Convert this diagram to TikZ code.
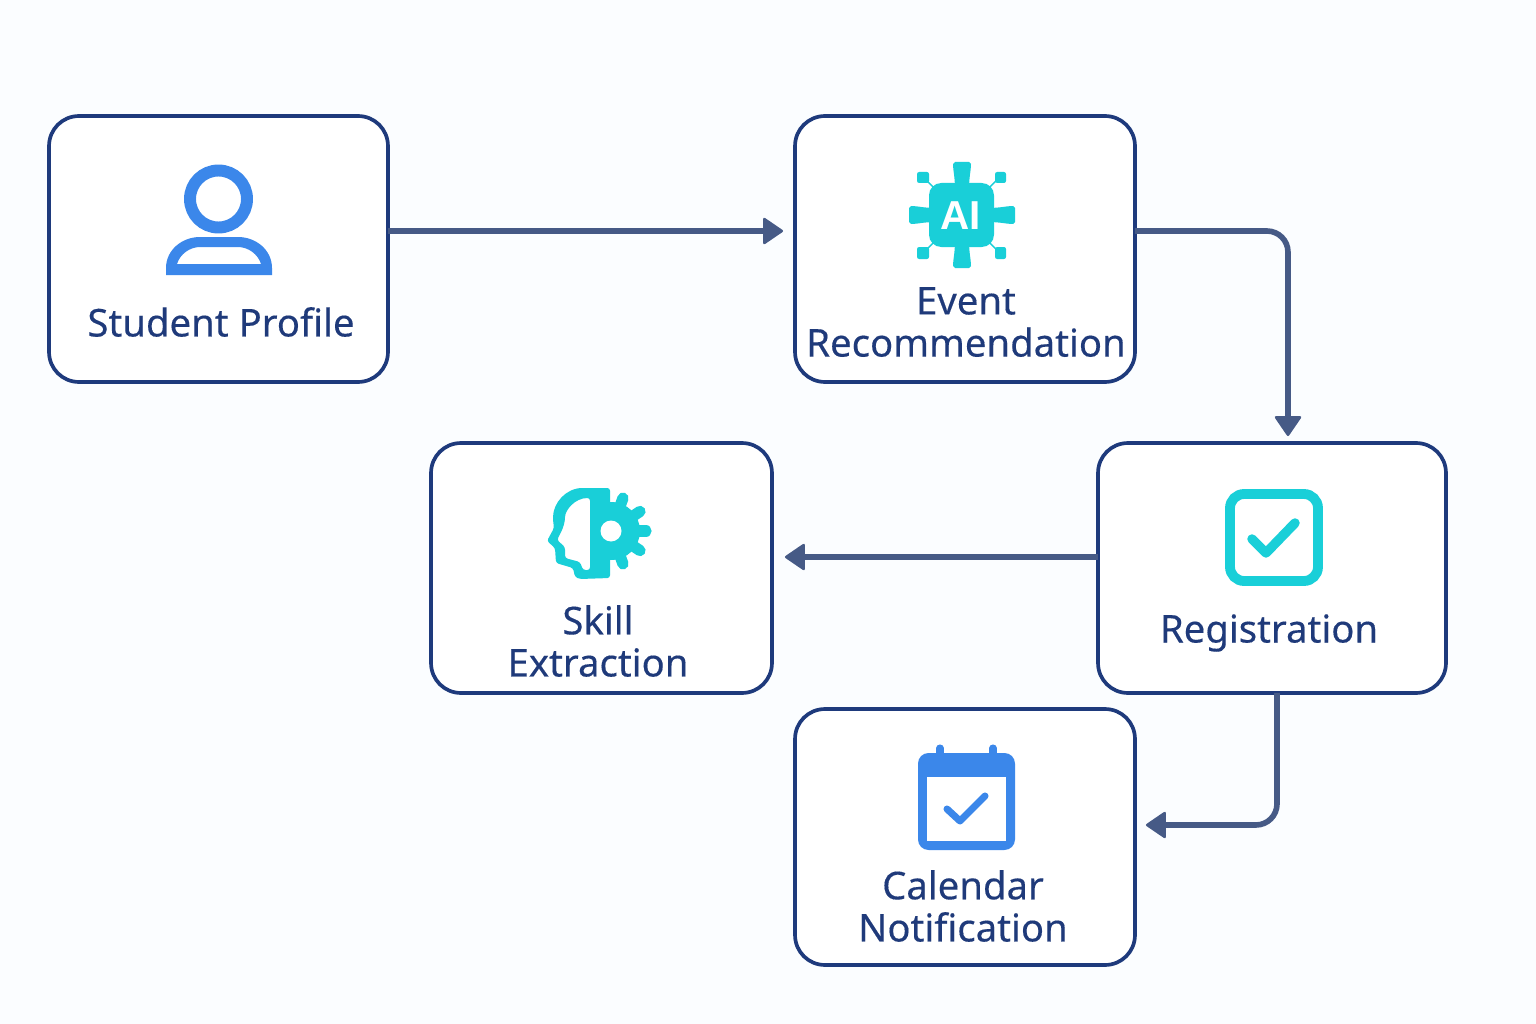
\documentclass[tikz,border=0pt]{standalone}
\usepackage{fontspec}
\setmainfont{Noto Sans}
\newfontfamily\stagefont[FakeBold=0.3]{Noto Sans}
\newfontfamily\chipfont{Liberation Sans}
\usetikzlibrary{arrows.meta}
\definecolor{pagebg}{HTML}{FBFDFF}
\definecolor{boxline}{HTML}{1E3A7C}
\definecolor{flowline}{HTML}{465A86}
\definecolor{labeltext}{HTML}{1F3A7A}
\definecolor{iconblue}{HTML}{3B87EA}
\definecolor{iconteal}{HTML}{19CFD8}
\tikzset{
	stagebox/.style={draw=boxline,fill=white,line width=2.1pt,rounded corners=17pt,outer sep=0pt,inner sep=0pt},
	stagelabel/.style={text=labeltext,font=\stagefont\fontsize{21.8}{24}\selectfont,align=center,inner sep=0pt},
	flow/.style={draw=flowline,line width=3.2pt,rounded corners=12pt,-{Triangle[length=12pt,width=16pt,line width=1.5pt,round]}},
	tealstroke/.style={draw=iconteal,line width=5.4pt,line cap=round,line join=round},
	bluestroke/.style={draw=iconblue,line width=4pt,line cap=round,line join=round}
}
\begin{document}
\begin{tikzpicture}[x=0.02cm,y=-0.02cm]
	\fill[pagebg] (0,0) rectangle (1536,1024);
	\useasboundingbox (0,0) rectangle (1536,1024);

	% boxes
	\node[stagebox,minimum width=6.78cm,minimum height=5.32cm] (student) at (218.5,249) {};
	\node[stagebox,minimum width=6.80cm,minimum height=5.32cm] (event) at (965,249) {};
	\node[stagebox,minimum width=6.96cm,minimum height=5.00cm] (registration) at (1272,568) {};
	\node[stagebox,minimum width=6.82cm,minimum height=5.00cm] (skill) at (601.5,568) {};
	\node[stagebox,minimum width=6.80cm,minimum height=5.12cm] (calendar) at (965,837) {};

	% labels
	\node[stagelabel] (studentlabel) at (221,322) {Student Profile};
	\node[stagelabel] (eventlabel) at (966,322) {Event\\Recommendation};
	\node[stagelabel] (registrationlabel) at (1269,633) {Registration};
	\node[stagelabel] (skilllabel) at (598,641) {Skill\\Extraction};
	\node[stagelabel] (calendarlabel) at (963,906) {Calendar\\Notification};

	% connectors
	\draw[flow,shorten >=0.24cm] ([yshift=0.36cm]student.east) -- ([yshift=0.36cm]event.west);
	\draw[flow,shorten >=0.14cm] ([yshift=0.36cm]event.east) -| ([xshift=0.32cm]registration.north);
	\draw[flow,shorten >=0.26cm] ([yshift=0.22cm]registration.west) -- ([yshift=0.22cm]skill.east);
	\draw[flow,shorten >=0.22cm] ([xshift=0.10cm]registration.south) |- ([yshift=0.24cm]calendar.east);

	% person icon
	\draw[iconblue,line width=6.8pt] (218.5,199) circle (28.5);
	\fill[iconblue,even odd rule] (166,275) -- (166,268) .. controls (166,250) and (182,237) .. (200,237) -- (238,237) .. controls (256,237) and (272,250) .. (272,268) -- (272,275) -- cycle
		(177,264) .. controls (180,254) and (190,247) .. (200,247) -- (238,247) .. controls (248,247) and (258,254) .. (261,264) -- cycle;

	% chip icon
	\draw[iconteal,line width=0.8pt] (925,179) -- (998,251) (998,179) -- (925,251);
	\fill[iconteal,rounded corners=7pt] (929,183) rectangle (994,247);
	\foreach \turn in {0,90,180,270}{
		\fill[iconteal,shift={(962,215)},rotate=\turn] (-7,-25) .. controls (-7,-39) and (-9,-44) .. (-9,-51) -- (-7,-53) -- (7,-53) -- (9,-51) .. controls (9,-44) and (7,-39) .. (7,-25) -- cycle;
	}
	\fill[iconteal,rounded corners=1.2pt] (917,172) rectangle (929,183);
	\fill[iconteal,rounded corners=1.2pt] (995,172) rectangle (1006,183);
	\fill[iconteal,rounded corners=1.2pt] (917,247) rectangle (929,259);
	\fill[iconteal,rounded corners=1.2pt] (995,247) rectangle (1006,259);
	\node[text=white,font=\chipfont\bfseries\fontsize{23}{24}\selectfont,inner sep=0pt] (chiptext) at (961,216) {AI};

	% head and gear icon
	\fill[iconteal,even odd rule,rounded corners=1.5pt] (610,488) -- (585,488) .. controls (566,488) and (553,503) .. (553,520) -- (554,528) -- (547,541) -- (555,548) -- (556,563) -- (573,568) -- (575,577) -- (580,579) -- (610,578) -- cycle
		(590,498) .. controls (575,498) and (565,510) .. (565,520) -- (563,528) -- (557,540) -- (565,547) -- (565,558) -- (580,562) -- (583,570) -- (590,570) -- cycle;
	\begin{scope}
		\clip (590,480) rectangle (660,585);
		\fill[iconteal] (611,531) circle (29);
		\foreach \tooth in {-70,-34,0,34,70}{
			\draw[tealstroke,line width=6.4pt] (611,531) -- +({35*cos(\tooth)},{35*sin(\tooth)});
		}
	\end{scope}
	\fill[white] (611,531) circle (10.5);

	% calendar icon
	\draw[bluestroke] (940,748) -- (940,760) (993,748) -- (993,760);
	\fill[iconblue,rounded corners=6pt] (918,753) rectangle (1015,850);
	\fill[white] (927,777) rectangle (1006,841);
	\draw[bluestroke] (947,809) -- (960,821) -- (985,796);

	% checkbox icon
	\draw[iconteal,line width=5.6pt,rounded corners=8pt] (1230,494) rectangle (1318,581);
	\draw[tealstroke] (1252,539) -- (1266,553) -- (1295,523);
\end{tikzpicture}
\end{document}
